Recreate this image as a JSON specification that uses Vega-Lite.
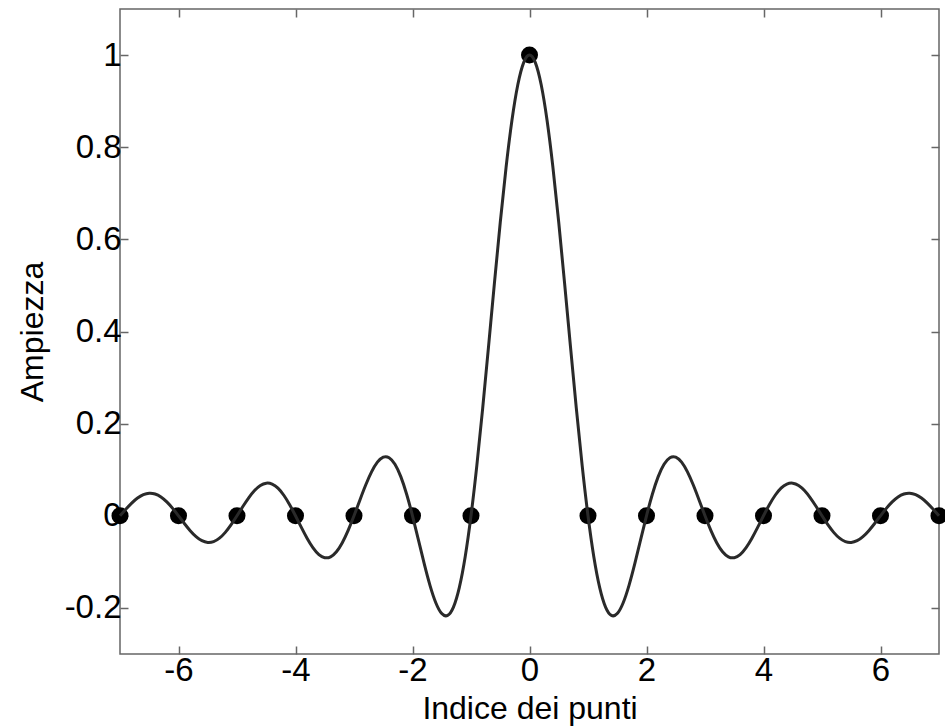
{
  "$schema": "https://vega.github.io/schema/vega-lite/v6.json",
  "autosize": "none",
  "width": 819,
  "height": 645,
  "padding": {"left": 120, "top": 9, "right": 6, "bottom": 74},
  "background": "white",
  "config": {
    "font": "Liberation Sans",
    "view": {"stroke": "#666666", "strokeWidth": 1.5},
    "axis": {
      "grid": false,
      "domain": false,
      "tickColor": "#666666",
      "tickWidth": 1.5,
      "tickSize": -8,
      "labelFont": "Liberation Sans",
      "labelFontSize": 33,
      "labelColor": "#000000",
      "titleFont": "Liberation Sans",
      "titleFontSize": 32,
      "titleFontWeight": "normal",
      "titleColor": "#000000"
    }
  },
  "datasets": {
    "curve": [
      {"x": -7, "y": 0}, {"x": -6.9, "y": 0.01426}, {"x": -6.8, "y": 0.02751}, {"x": -6.7, "y": 0.03844}, {"x": -6.6, "y": 0.04587}, {"x": -6.5, "y": 0.04897}, {"x": -6.4, "y": 0.0473}, {"x": -6.3, "y": 0.04088}, {"x": -6.2, "y": 0.03018}, {"x": -6.1, "y": 0.01613},
      {"x": -6, "y": 0}, {"x": -5.9, "y": -0.01667}, {"x": -5.8, "y": -0.03226}, {"x": -5.7, "y": -0.04518}, {"x": -5.6, "y": -0.05406}, {"x": -5.5, "y": -0.05787}, {"x": -5.4, "y": -0.05606}, {"x": -5.3, "y": -0.04859}, {"x": -5.2, "y": -0.03598}, {"x": -5.1, "y": -0.01929},
      {"x": -5, "y": 0}, {"x": -4.9, "y": 0.02007}, {"x": -4.8, "y": 0.03898}, {"x": -4.7, "y": 0.05479}, {"x": -4.6, "y": 0.06581}, {"x": -4.5, "y": 0.07074}, {"x": -4.4, "y": 0.0688}, {"x": -4.3, "y": 0.05989}, {"x": -4.2, "y": 0.04455}, {"x": -4.1, "y": 0.02399},
      {"x": -4, "y": 0}, {"x": -3.9, "y": -0.02522}, {"x": -3.8, "y": -0.04924}, {"x": -3.7, "y": -0.0696}, {"x": -3.6, "y": -0.08409}, {"x": -3.5, "y": -0.09095}, {"x": -3.4, "y": -0.08904}, {"x": -3.3, "y": -0.07804}, {"x": -3.2, "y": -0.05847}, {"x": -3.1, "y": -0.03173},
      {"x": -3, "y": 0}, {"x": -2.9, "y": 0.03392}, {"x": -2.8, "y": 0.06682}, {"x": -2.7, "y": 0.09538}, {"x": -2.6, "y": 0.11644}, {"x": -2.5, "y": 0.12732}, {"x": -2.4, "y": 0.12614}, {"x": -2.3, "y": 0.11196}, {"x": -2.2, "y": 0.08504}, {"x": -2.1, "y": 0.04684},
      {"x": -2, "y": 0}, {"x": -1.9, "y": -0.05177}, {"x": -1.8, "y": -0.10394}, {"x": -1.7, "y": -0.15148}, {"x": -1.6, "y": -0.18921}, {"x": -1.5, "y": -0.21221}, {"x": -1.4, "y": -0.21624}, {"x": -1.3, "y": -0.19809}, {"x": -1.2, "y": -0.15591}, {"x": -1.1, "y": -0.08942},
      {"x": -1, "y": 0}, {"x": -0.9, "y": 0.10929}, {"x": -0.8, "y": 0.23387}, {"x": -0.7, "y": 0.36788}, {"x": -0.6, "y": 0.50455}, {"x": -0.5, "y": 0.63662}, {"x": -0.4, "y": 0.75683}, {"x": -0.3, "y": 0.85839}, {"x": -0.2, "y": 0.93549}, {"x": -0.1, "y": 0.98363},
      {"x": 0, "y": 1},
      {"x": 0.1, "y": 0.98363}, {"x": 0.2, "y": 0.93549}, {"x": 0.3, "y": 0.85839}, {"x": 0.4, "y": 0.75683}, {"x": 0.5, "y": 0.63662}, {"x": 0.6, "y": 0.50455}, {"x": 0.7, "y": 0.36788}, {"x": 0.8, "y": 0.23387}, {"x": 0.9, "y": 0.10929}, {"x": 1, "y": 0},
      {"x": 1.1, "y": -0.08942}, {"x": 1.2, "y": -0.15591}, {"x": 1.3, "y": -0.19809}, {"x": 1.4, "y": -0.21624}, {"x": 1.5, "y": -0.21221}, {"x": 1.6, "y": -0.18921}, {"x": 1.7, "y": -0.15148}, {"x": 1.8, "y": -0.10394}, {"x": 1.9, "y": -0.05177}, {"x": 2, "y": 0},
      {"x": 2.1, "y": 0.04684}, {"x": 2.2, "y": 0.08504}, {"x": 2.3, "y": 0.11196}, {"x": 2.4, "y": 0.12614}, {"x": 2.5, "y": 0.12732}, {"x": 2.6, "y": 0.11644}, {"x": 2.7, "y": 0.09538}, {"x": 2.8, "y": 0.06682}, {"x": 2.9, "y": 0.03392}, {"x": 3, "y": 0},
      {"x": 3.1, "y": -0.03173}, {"x": 3.2, "y": -0.05847}, {"x": 3.3, "y": -0.07804}, {"x": 3.4, "y": -0.08904}, {"x": 3.5, "y": -0.09095}, {"x": 3.6, "y": -0.08409}, {"x": 3.7, "y": -0.0696}, {"x": 3.8, "y": -0.04924}, {"x": 3.9, "y": -0.02522}, {"x": 4, "y": 0},
      {"x": 4.1, "y": 0.02399}, {"x": 4.2, "y": 0.04455}, {"x": 4.3, "y": 0.05989}, {"x": 4.4, "y": 0.0688}, {"x": 4.5, "y": 0.07074}, {"x": 4.6, "y": 0.06581}, {"x": 4.7, "y": 0.05479}, {"x": 4.8, "y": 0.03898}, {"x": 4.9, "y": 0.02007}, {"x": 5, "y": 0},
      {"x": 5.1, "y": -0.01929}, {"x": 5.2, "y": -0.03598}, {"x": 5.3, "y": -0.04859}, {"x": 5.4, "y": -0.05606}, {"x": 5.5, "y": -0.05787}, {"x": 5.6, "y": -0.05406}, {"x": 5.7, "y": -0.04518}, {"x": 5.8, "y": -0.03226}, {"x": 5.9, "y": -0.01667}, {"x": 6, "y": 0},
      {"x": 6.1, "y": 0.01613}, {"x": 6.2, "y": 0.03018}, {"x": 6.3, "y": 0.04088}, {"x": 6.4, "y": 0.0473}, {"x": 6.5, "y": 0.04897}, {"x": 6.6, "y": 0.04587}, {"x": 6.7, "y": 0.03844}, {"x": 6.8, "y": 0.02751}, {"x": 6.9, "y": 0.01426}, {"x": 7, "y": 0}
    ],
    "pts": [
      {"x": -7, "y": 0}, {"x": -6, "y": 0}, {"x": -5, "y": 0}, {"x": -4, "y": 0}, {"x": -3, "y": 0}, {"x": -2, "y": 0}, {"x": -1, "y": 0}, {"x": 0, "y": 1},
      {"x": 1, "y": 0}, {"x": 2, "y": 0}, {"x": 3, "y": 0}, {"x": 4, "y": 0}, {"x": 5, "y": 0}, {"x": 6, "y": 0}, {"x": 7, "y": 0}
    ]
  },
  "resolve": {"axis": {"x": "independent", "y": "independent"}},
  "layer": [
    {
      "data": {"name": "pts"},
      "mark": {"type": "point", "filled": true, "shape": "circle", "size": 290, "color": "#000000", "opacity": 1},
      "encoding": {
        "x": {
          "field": "x", "type": "quantitative",
          "scale": {"domain": [-7, 7], "nice": false, "zero": false},
          "axis": {"orient": "top", "labels": false, "title": null, "values": [-6, -4, -2, 0, 2, 4, 6]}
        },
        "y": {
          "field": "y", "type": "quantitative",
          "scale": {"domain": [-0.3, 1.1], "nice": false, "zero": false},
          "axis": {"orient": "right", "labels": false, "title": null, "values": [-0.2, 0, 0.2, 0.4, 0.6, 0.8, 1]}
        }
      }
    },
    {
      "data": {"name": "curve"},
      "mark": {"type": "line", "color": "#2a2a2a", "strokeWidth": 3, "interpolate": "natural"},
      "encoding": {
        "x": {
          "field": "x", "type": "quantitative",
          "axis": {
            "orient": "bottom", "title": "Indice dei punti", "values": [-6, -4, -2, 0, 2, 4, 6],
            "labelPadding": 8, "titlePadding": 6,
            "labelExpr": "(datum.value < 0 ? '-' : '') + format(abs(datum.value), '~g')"
          }
        },
        "y": {
          "field": "y", "type": "quantitative",
          "axis": {
            "orient": "left", "title": "Ampiezza", "values": [-0.2, 0, 0.2, 0.4, 0.6, 0.8, 1],
            "labelPadding": 7, "titlePadding": 15,
            "labelExpr": "(datum.value < 0 ? '-' : '') + format(abs(datum.value), '~g')"
          }
        }
      }
    }
  ]
}
